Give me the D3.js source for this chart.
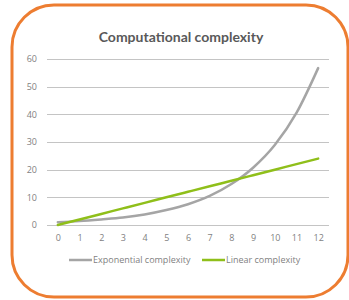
<!DOCTYPE html>
<html>
<head>
<meta charset="utf-8">
<script src="https://cdn.jsdelivr.net/npm/d3@7"></script>
<style>
  body { margin: 0; background: #fff; }
  text { font-family: "Open Sans", "DejaVu Sans", sans-serif; }
</style>
</head>
<body>
<div id="chart"></div>
<script>
var svgWidth = 349;
var svgHeight = 300;

var categories = [0, 1, 2, 3, 4, 5, 6, 7, 8, 9, 10, 11, 12];
var exponential = [1, 1.4, 2, 2.7, 3.8, 5.4, 7.5, 10.5, 14.8, 20.7, 28.9, 40.5, 56.7];
var linear = [0, 2, 4, 6, 8, 10, 12, 14, 16, 18, 20, 22, 24];
var yTicks = [0, 10, 20, 30, 40, 50, 60];

var margin = { top: 59, right: 20, bottom: 75, left: 47 };
var width = 329 - margin.left;
var height = 225 - margin.top;

var svg = d3.select("#chart")
    .append("svg")
    .attr("width", svgWidth)
    .attr("height", svgHeight);

// orange rounded frame
svg.append("rect")
    .attr("x", 12)
    .attr("y", 5)
    .attr("width", 336)
    .attr("height", 292)
    .attr("rx", 42)
    .attr("fill", "#fff")
    .attr("stroke", "#ED7D31")
    .attr("stroke-width", 3);

svg.append("text")
    .attr("x", 181)
    .attr("y", 42)
    .attr("text-anchor", "middle")
    .style("font-family", "Lato, sans-serif")
    .style("font-size", "14px")
    .style("font-weight", "bold")
    .style("fill", "#595959")
    .text("Computational complexity");

var chartGroup = svg.append("g")
    .attr("transform", `translate(${margin.left}, ${margin.top})`);

var xScale = d3.scalePoint()
    .domain(categories)
    .range([0, width])
    .padding(0.5);

var yScale = d3.scaleLinear()
    .domain([0, 60])
    .range([height, 0]);

// gridlines
chartGroup.selectAll(".grid")
    .data(yTicks)
    .enter()
    .append("line")
    .attr("x1", 0)
    .attr("x2", width)
    .attr("y1", d => Math.round(yScale(d)) + 0.5)
    .attr("y2", d => Math.round(yScale(d)) + 0.5)
    .attr("stroke", "#c4c4c4")
    .attr("stroke-width", 1);

var leftAxis = d3.axisLeft(yScale).tickValues(yTicks).tickSize(0).tickPadding(10);
var yAxis = chartGroup.append("g").call(leftAxis);
yAxis.select(".domain").remove();
yAxis.selectAll("text").style("font-size", "9px").style("fill", "#7f7f7f")
    .style("font-family", "'Open Sans', sans-serif");

var bottomAxis = d3.axisBottom(xScale).tickSize(0).tickPadding(10);
var xAxis = chartGroup.append("g")
    .attr("transform", `translate(0, ${height})`)
    .call(bottomAxis);
xAxis.select(".domain").remove();
xAxis.selectAll("text").style("font-size", "9px").style("fill", "#7f7f7f")
    .style("font-family", "'Open Sans', sans-serif");

var line = d3.line()
    .x((d, i) => xScale(categories[i]))
    .y(d => yScale(d))
    .curve(d3.curveMonotoneX);

chartGroup.append("path")
    .datum(exponential)
    .attr("d", line)
    .attr("fill", "none")
    .attr("stroke", "#a5a5a5")
    .attr("stroke-width", 2.5)
    .attr("stroke-linecap", "round");

chartGroup.append("path")
    .datum(linear)
    .attr("d", line)
    .attr("fill", "none")
    .attr("stroke", "#8fbf1a")
    .attr("stroke-width", 2.5)
    .attr("stroke-linecap", "round");

// legend
var legendItems = [
    { name: "Exponential complexity", color: "#a5a5a5", x: 69 },
    { name: "Linear complexity", color: "#8fbf1a", x: 202 }
];
var legend = svg.selectAll(".legend")
    .data(legendItems)
    .enter()
    .append("g")
    .attr("transform", d => `translate(${d.x}, 260)`);
legend.append("line")
    .attr("x1", 0)
    .attr("x2", 23)
    .attr("stroke", d => d.color)
    .attr("stroke-width", 2.5);
legend.append("text")
    .attr("x", 24)
    .attr("dy", "0.35em")
    .style("font-size", "9px")
    .style("fill", "#7f7f7f")
    .text(d => d.name);
</script>
</body>
</html>
